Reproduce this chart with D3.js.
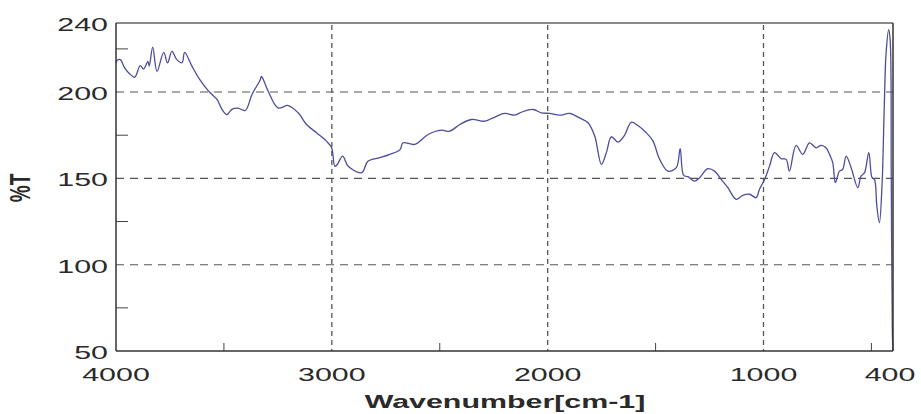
<!DOCTYPE html>
<html>
<head>
<meta charset="utf-8">
<script src="https://cdn.jsdelivr.net/npm/d3@7"></script>
<style>
  html, body { margin: 0; padding: 0; background: #fff; }
  svg { display: block; }
  text { font-family: "Liberation Sans", Arial, sans-serif; fill: #2a2a2a; }
</style>
</head>
<body>
<svg id="chart" width="921" height="414"></svg>
<script>
// ---- data ----
const wavenumber = [4000, 3994, 3980, 3960, 3936, 3913, 3888, 3872, 3852, 3846, 3830, 3810, 3779, 3761, 3741, 3718, 3694, 3682,
  3648, 3614, 3571, 3532, 3509, 3486, 3463, 3432, 3401, 3370, 3332, 3326, 3295, 3249, 3202, 3156, 3117, 3071, 3025, 3001,
  2986, 2975, 2950, 2924, 2862, 2832, 2778, 2731, 2685, 2670, 2616, 2554, 2492, 2454, 2407, 2353, 2292, 2253, 2199, 2153,
  2122, 2068, 2029, 1991, 1944, 1898, 1852, 1813, 1782, 1751, 1728, 1705, 1674, 1644, 1613, 1582, 1543, 1512, 1481, 1443,
  1404, 1386, 1370, 1350, 1319, 1296, 1258, 1227, 1196, 1165, 1127, 1096, 1065, 1034, 1019, 995, 972, 949, 918, 895, 880,
  849, 818, 787, 756, 733, 710, 694, 679, 667, 648, 633, 617, 594, 563, 548, 532, 512, 497, 486, 475, 463, 451, 440, 432,
  420, 413, 408, 403, 400];
const transmittance = [217, 218.4, 218.8, 214, 210.5, 208.6, 215.3, 213.4, 217.8, 215, 226, 212, 223, 216.9, 223.6, 218.8, 217, 223,
  215, 207.6, 200.5, 195.7, 190, 187, 190, 190.6, 189.3, 198.6, 207, 209, 200.5, 190.8, 192.2, 188, 181.2, 176.4, 171.6, 167.7,
  157, 158, 162.9, 157, 153.3, 160, 162, 163.9, 166.5, 170.6, 169.7, 175.4, 177.9, 177.3, 181.2, 184.1, 183.1, 185.1, 187.6, 186.6,
  188.3, 189.9, 188, 187.6, 186.6, 187.6, 185, 182.2, 174.5, 158.1, 164.9, 174.1, 171, 174.9, 182.5, 180.6, 176.4, 171.6, 161, 154.2,
  156.2, 167.2, 151.7, 151, 148.4, 150.4, 155.6, 154.2, 149.4, 144.6, 137.9, 140.2, 140.8, 138.8, 143.6, 149.4, 157.1, 164.9, 161.4, 161, 154.2,
  169.1, 163.9, 170.6, 167.7, 169.1, 167.7, 163.9, 159, 147.5, 154.2, 155.2, 162.9, 156.2, 144.6, 151.3, 153.3, 164.9, 150.4, 149.4, 134,
  124.3, 145.6, 193.8, 222.7, 236.1, 230, 150, 60, 50];
const xTickValues = [4000, 3000, 2000, 1000, 400];
const xMinorTicks = [3500, 2500, 1500, 500];
const yTickValues = [50, 100, 150, 200, 240];
const yMinorTicks = [75, 125, 175, 225];
const xGrid = [3000, 2000, 1000];
const yGrid = [100, 150, 200];
const xTitle = "Wavenumber[cm-1]";
const yTitle = "%T";

(function () {
  // ---- layout ----
  const pL = 116, pR = 893, pT = 23, pB = 351;
  const stretch = 1.6; // reference text is horizontally stretched
  const svg = d3.select("#chart");
  const x = d3.scaleLinear().domain([4000, 400]).range([pL, pR]);
  const y = d3.scaleLinear().domain([50, 240]).range([pB, pT]);

  // grid
  svg.append("g").selectAll("line").data(yGrid).join("line")
    .attr("x1", pL).attr("x2", pR).attr("y1", d => y(d)).attr("y2", d => y(d))
    .attr("stroke", "#555").attr("stroke-width", 1.1).attr("stroke-dasharray", "8,6");
  svg.append("g").selectAll("line").data(xGrid).join("line")
    .attr("y1", pT + 2).attr("y2", pB).attr("x1", d => x(d)).attr("x2", d => x(d))
    .attr("stroke", "#555").attr("stroke-width", 1.3).attr("stroke-dasharray", "5,4");

  // minor ticks
  svg.append("g").selectAll("line").data(yMinorTicks).join("line")
    .attr("x1", pL).attr("x2", pL + 12).attr("y1", d => y(d)).attr("y2", d => y(d))
    .attr("stroke", "#444").attr("stroke-width", 1);
  svg.append("g").selectAll("line").data(xMinorTicks).join("line")
    .attr("y1", pB).attr("y2", pB - 8).attr("x1", d => x(d)).attr("x2", d => x(d))
    .attr("stroke", "#444").attr("stroke-width", 1);

  // spectrum line
  const pts = d3.zip(wavenumber, transmittance);
  const line = d3.line().x(d => x(d[0])).y(d => y(d[1])).curve(d3.curveCatmullRom.alpha(0.5));
  svg.append("path").datum(pts)
    .attr("d", line).attr("fill", "none")
    .attr("stroke", "#4d4d9e").attr("stroke-width", 1.3).attr("stroke-linejoin", "round");

  // frame
  svg.append("line").attr("x1", pL).attr("x2", pR).attr("y1", pT).attr("y2", pT)
    .attr("stroke", "#8a8a8a").attr("stroke-width", 2);
  svg.append("line").attr("x1", pR).attr("x2", pR).attr("y1", pT).attr("y2", pB)
    .attr("stroke", "#333").attr("stroke-width", 1.5);
  svg.append("line").attr("x1", pL).attr("x2", pR).attr("y1", pB).attr("y2", pB)
    .attr("stroke", "#333").attr("stroke-width", 1.5);
  svg.append("line").attr("x1", pL).attr("x2", pL).attr("y1", pT).attr("y2", pB)
    .attr("stroke", "#333").attr("stroke-width", 1.5);

  // y tick labels
  svg.append("g").selectAll("text").data(yTickValues).join("text")
    .attr("transform", d => `translate(${pL - 8},${y(d) + 8}) scale(${stretch},1)`)
    .attr("text-anchor", "end").attr("font-size", 19).text(d => d);

  // x tick labels
  svg.append("g").selectAll("text").data(xTickValues).join("text")
    .attr("transform", d => `translate(${x(d) - (d === 400 ? 3 : 0)},381) scale(${stretch},1)`)
    .attr("text-anchor", "middle").attr("font-size", 19).text(d => d);

  // axis titles
  svg.append("text")
    .attr("transform", `translate(505,408) scale(${stretch},1)`)
    .attr("text-anchor", "middle").attr("font-size", 19).attr("font-weight", "bold")
    .attr("fill", "#1a1a1a").text(xTitle);
  svg.append("text")
    .attr("transform", `translate(30,188) scale(${stretch},1) rotate(-90)`)
    .attr("text-anchor", "middle").attr("font-size", 19).attr("font-weight", "bold")
    .attr("fill", "#1a1a1a").text(yTitle);
})();
</script>
</body>
</html>
